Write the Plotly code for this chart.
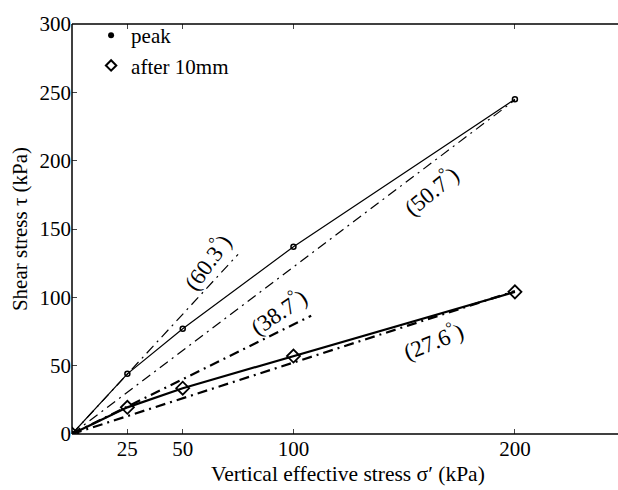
import math
import plotly.graph_objects as go

sigma = [0, 25, 50, 100, 200]
peak = [0, 44, 77, 137, 245]
after10 = [0, 19.5, 33.5, 57, 104]

# friction-angle fit lines (angle in degrees, extent in kPa)
fit_angles = [60.3, 50.7, 38.7, 27.6]
fit_xmax = [75, 200, 108, 200]
fit_width = [1.2, 1.2, 2.2, 2.2]

label_text = ["(60.3<sup>°</sup>)", "(50.7<sup>°</sup>)", "(38.7<sup>°</sup>)", "(27.6<sup>°</sup>)"]
label_x = [61, 162, 93, 163]
label_y = [126, 178, 90, 68.5]
label_rot = [-54, -39, -34, -22]

xticks = [25, 50, 100, 200]
yticks = [0, 50, 100, 150, 200, 250, 300]

FONT = "Liberation Serif"
XMAX = 233
fig = go.Figure()

for ang, xm, w in zip(fit_angles, fit_xmax, fit_width):
    t = math.tan(math.radians(ang))
    fig.add_trace(go.Scatter(x=[0, xm], y=[0, xm * t], mode="lines",
                             line=dict(color="black", width=w, dash="10px,5px,2px,5px"),
                             showlegend=False, hoverinfo="skip"))

fig.add_trace(go.Scatter(x=sigma, y=peak, mode="lines+markers",
                         line=dict(color="black", width=1.2),
                         marker=dict(symbol="circle-open", size=5, color="black", line=dict(width=1.5)),
                         showlegend=False))
fig.add_trace(go.Scatter(x=sigma, y=after10, mode="lines+markers",
                         line=dict(color="black", width=2.2),
                         marker=dict(symbol="diamond-open", size=10, color="black", line=dict(width=1.8)),
                         showlegend=False))

# legend entries
fig.add_trace(go.Scatter(x=[None], y=[None], mode="markers", name="peak",
                         marker=dict(symbol="circle", size=6, color="black")))
fig.add_trace(go.Scatter(x=[None], y=[None], mode="markers", name="after 10mm",
                         marker=dict(symbol="diamond-open", size=8, color="black", line=dict(width=2))))

# invisible trace carrying the top (tick-only) axis
fig.add_trace(go.Scatter(x=[None], y=[None], xaxis="x2", showlegend=False, hoverinfo="skip"))

for txt, x, y, r in zip(label_text, label_x, label_y, label_rot):
    fig.add_annotation(x=x, y=y, text=txt, textangle=r, showarrow=False,
                       font=dict(family=FONT, size=23, color="black"))

# x-axis title as paper annotation
fig.add_annotation(xref="paper", yref="paper", x=0.535, y=-0.097, yanchor="middle",
                   text="Vertical effective stress σ′ (kPa)", showarrow=False,
                   font=dict(family=FONT, size=21.5, color="black"))

# frame: left, bottom and top lines (bottom/top run to the page edge, no right spine)
frame = [(0, 0, 0, 1), (0, 1.07, 0, 0), (0, 1.07, 1, 1)]
for x0, x1, y0, y1 in frame:
    fig.add_shape(type="line", xref="paper", yref="paper", x0=x0, x1=x1, y0=y0, y1=y1,
                  line=dict(color="black", width=1.5), layer="above")

fig.update_layout(
    width=618, height=490,
    margin=dict(l=72, r=30, t=14, b=56),
    paper_bgcolor="white", plot_bgcolor="white",
    font=dict(family=FONT, size=21, color="black"),
    legend=dict(x=0.037, y=1.022, xanchor="left", yanchor="top",
                bgcolor="rgba(0,0,0,0)", font=dict(size=21), itemwidth=30,
                tracegroupgap=0),
    showlegend=True,
    xaxis=dict(range=[0, XMAX], tickvals=xticks, ticks="inside", ticklen=5, tickwidth=1.2,
               showline=False, showgrid=False, zeroline=False),
    xaxis2=dict(overlaying="x", side="top", range=[0, XMAX], tickvals=xticks,
                showticklabels=False, ticks="inside", ticklen=5, tickwidth=1.2,
                showline=False, showgrid=False, zeroline=False),
    yaxis=dict(range=[0, 300], tickvals=yticks, ticks="inside", ticklen=5, tickwidth=1.2,
               showline=False, showgrid=False, zeroline=False,
               title=dict(text="Shear stress τ (kPa)", font=dict(size=21), standoff=6)),
)

fig.write_html("out.html")
